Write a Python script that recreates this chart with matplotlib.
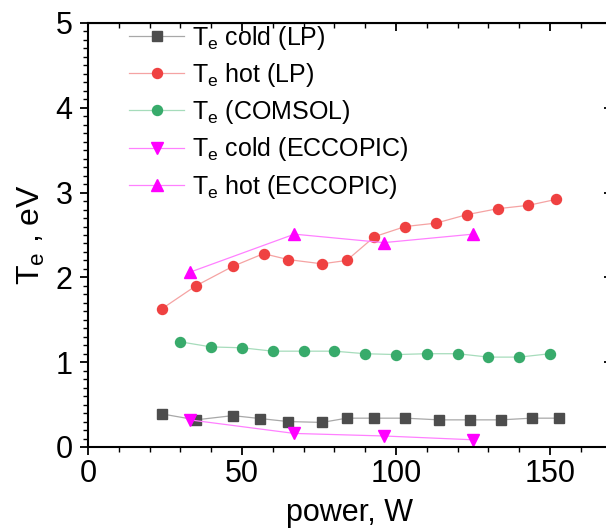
import numpy as np
import matplotlib
matplotlib.use("Agg")
import matplotlib.pyplot as plt
from matplotlib.ticker import MultipleLocator

plt.rcParams['font.family'] = ['Liberation Sans', 'DejaVu Sans']
plt.rcParams['mathtext.fontset'] = 'custom'
plt.rcParams['mathtext.rm'] = 'Liberation Sans'
plt.rcParams['mathtext.it'] = 'Liberation Sans:italic'

# data
power_cold_lp = [24, 35, 47, 56, 65, 76, 84, 93, 103, 114, 124, 134, 144, 153]
te_cold_lp = [0.39, 0.32, 0.37, 0.335, 0.30, 0.29, 0.34, 0.34, 0.34, 0.32, 0.32, 0.32, 0.34, 0.34]

power_hot_lp = [24, 35, 47, 57, 65, 76, 84, 93, 103, 113, 123, 133, 143, 152]
te_hot_lp = [1.63, 1.90, 2.13, 2.28, 2.21, 2.16, 2.20, 2.48, 2.60, 2.64, 2.74, 2.81, 2.85, 2.92]

power_comsol = [30, 40, 50, 60, 70, 80, 90, 100, 110, 120, 130, 140, 150]
te_comsol = [1.24, 1.18, 1.17, 1.13, 1.13, 1.13, 1.10, 1.09, 1.10, 1.10, 1.06, 1.06, 1.10]

power_eccopic = [33, 67, 96, 125]
te_cold_eccopic = [0.32, 0.16, 0.13, 0.085]
te_hot_eccopic = [2.06, 2.51, 2.41, 2.51]

fig = plt.figure(figsize=(6.06, 5.29), dpi=100)
ax = fig.add_axes([88 / 606, 1 - 447 / 529, (611.6 - 88) / 606, (447 - 23) / 529])

ax.plot(power_cold_lp, te_cold_lp, color='#a8a8a8', lw=0.9, marker='s', ms=7,
        mfc='#4d4d4d', mec='#4d4d4d', label=r'T$_\mathrm{e}$ cold (LP)')
ax.plot(power_hot_lp, te_hot_lp, color='#f5a3a3', lw=0.9, marker='o', ms=7.2,
        mfc='#ef4141', mec='#ef4141', label=r'T$_\mathrm{e}$ hot (LP)')
ax.plot(power_comsol, te_comsol, color='#a6dcbb', lw=0.9, marker='o', ms=7.2,
        mfc='#38ab6b', mec='#38ab6b', label=r'T$_\mathrm{e}$ (COMSOL)')
ax.plot(power_eccopic, te_cold_eccopic, color='#ff80ff', lw=0.9, marker='v', ms=9,
        mfc='#ff00ff', mec='#ff00ff', label=r'T$_\mathrm{e}$ cold (ECCOPIC)')
ax.plot(power_eccopic, te_hot_eccopic, color='#ff80ff', lw=0.9, marker='^', ms=9,
        mfc='#ff00ff', mec='#ff00ff', label=r'T$_\mathrm{e}$ hot (ECCOPIC)')

ax.set_xlim(0, 170)
ax.set_ylim(0, 5)
ax.xaxis.set_major_locator(MultipleLocator(50))
ax.xaxis.set_minor_locator(MultipleLocator(10))
ax.yaxis.set_major_locator(MultipleLocator(1))
ax.yaxis.set_minor_locator(MultipleLocator(0.1))

for s in ax.spines.values():
    s.set_linewidth(1.5)
ax.tick_params(which='major', direction='out', length=6, width=1.3, labelsize=22, pad=3)
ax.tick_params(which='minor', direction='out', length=3.5, width=1.0)
ax.tick_params(axis='y', which='major', pad=5)

# Origin style: inward ticks on the top and right sides
top = ax.secondary_xaxis('top')
top.xaxis.set_major_locator(MultipleLocator(50))
top.xaxis.set_minor_locator(MultipleLocator(10))
top.tick_params(which='major', direction='in', length=6, width=1.3, labeltop=False)
top.tick_params(which='minor', direction='in', length=3.5, width=1.0)
right = ax.secondary_yaxis('right')
right.yaxis.set_major_locator(MultipleLocator(1))
right.yaxis.set_minor_locator(MultipleLocator(0.1))
right.tick_params(which='major', direction='in', length=6, width=1.3, labelright=False)
right.tick_params(which='minor', direction='in', length=3.5, width=1.0)

ax.set_xlabel('power, W', fontsize=22, labelpad=6)
ax.set_ylabel(r'T$_\mathrm{e}$ , eV', fontsize=23, labelpad=6)

ax.legend(loc='upper left', bbox_to_anchor=(0.06, 1.022), frameon=False, fontsize=18,
          handlelength=2.2, handletextpad=0.3, labelspacing=0.37, numpoints=1,
          borderaxespad=0)

fig.savefig('out.png', dpi=100)
